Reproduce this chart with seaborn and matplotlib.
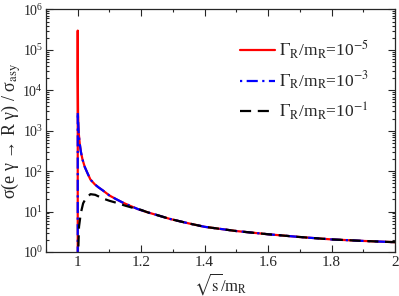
import numpy as np
import pandas as pd
import matplotlib
matplotlib.use("Agg")
import matplotlib.pyplot as plt
import seaborn as sns
from matplotlib.ticker import MultipleLocator, LogLocator, NullFormatter

# values (sqrt(s)/m_R , sigma/sigma_asy)
x_tail = [1.0063, 1.01, 1.015, 1.022, 1.03, 1.04, 1.054, 1.065, 1.08, 1.1,
          1.12, 1.14, 1.164, 1.19, 1.22, 1.25, 1.29, 1.35, 1.4, 1.5,
          1.6, 1.7, 1.8, 1.9, 2.0]
y_tail = [480, 300, 195, 128, 92, 62, 47, 40, 33, 25,
          20.5, 17, 14, 11.5, 9.6, 8.2, 6.6, 5.1, 4.2, 3.3,
          2.75, 2.35, 2.05, 1.88, 1.75]

x_red = [1.0, 1.00001, 1.0001, 1.001, 1.003] + x_tail
y_red = [0.5, 3.0e5, 2.6e4, 2700, 900] + y_tail

x_blue = [1.0, 1.00005, 1.001, 1.003] + x_tail
y_blue = [0.5, 2900, 1900, 850] + y_tail

x_black = [1.0, 1.001, 1.002, 1.004, 1.0095, 1.017, 1.025, 1.04, 1.055, 1.08,
           1.1, 1.122, 1.15, 1.175, 1.2, 1.22, 1.25, 1.29, 1.35, 1.4,
           1.5, 1.6, 1.7, 1.8, 1.9, 2.0]
y_black = [0.5, 1.0, 1.35, 4.2, 9, 16, 21, 27, 26, 21,
           18.5, 16.5, 14, 12.3, 11, 9.6, 8.2, 6.6, 5.1, 4.2,
           3.3, 2.75, 2.35, 2.05, 1.88, 1.75]

labels = [r"$\Gamma_{\rm R}$/m$_{\rm R}$=10$^{-5}$",
          r"$\Gamma_{\rm R}$/m$_{\rm R}$=10$^{-3}$",
          r"$\Gamma_{\rm R}$/m$_{\rm R}$=10$^{-1}$"]

sns.set_style("ticks")
plt.rcParams["font.family"] = ["Liberation Serif", "DejaVu Serif"]
plt.rcParams["mathtext.fontset"] = "stix"

fig = plt.figure(figsize=(3.99, 2.96), dpi=100)
ax = fig.add_axes([0.1153, 0.1486, 0.8747, 0.8194])

sns.lineplot(x=x_red, y=y_red, ax=ax, color="#ff0000", lw=1.6,
             estimator=None, sort=False, label=labels[0])
sns.lineplot(x=x_blue, y=y_blue, ax=ax, color="#0000ff", lw=1.6,
             estimator=None, sort=False, label=labels[1])
ax.lines[-1].set_dashes([1, 2, 5, 2])
sns.lineplot(x=x_black, y=y_black, ax=ax, color="black", lw=1.6,
             estimator=None, sort=False, label=labels[2])
ax.lines[-1].set_dashes([5, 3])

ax.set_yscale("log")
ax.set_xlim(0.9, 2.0)
ax.set_ylim(1, 1e6)
ax.xaxis.set_minor_locator(MultipleLocator(0.1))
ax.set_xticks([1.0, 1.2, 1.4, 1.6, 1.8, 2.0])
ax.set_xticklabels(["1", "1.2", "1.4", "1.6", "1.8", "2"])
ax.yaxis.set_major_locator(LogLocator(base=10, numticks=10))
ax.yaxis.set_minor_locator(LogLocator(base=10, subs=np.arange(2, 10), numticks=20))
ax.yaxis.set_minor_formatter(NullFormatter())

ax.tick_params(which="both", direction="in", top=True, right=True,
               width=0.8, pad=3)
ax.tick_params(axis="x", labelsize=11)
ax.tick_params(axis="y", labelsize=10, pad=2)
ax.tick_params(which="major", length=5)
ax.tick_params(which="minor", length=2.5)
for s in ax.spines.values():
    s.set_linewidth(0.9)

ax.set_xlabel(r"$\sqrt{\rm s}$/m$_{\rm R}$", fontsize=12)
ax.xaxis.set_label_coords(0.5, -0.078)
ax.set_ylabel("σ(e γ → R γ) / σ$_{\\rm asy}$", fontsize=13)
ax.yaxis.set_label_coords(-0.066, 0.5)

ax.legend(loc="upper right", frameon=False, fontsize=12.5, handlelength=2.0,
          handletextpad=0.25, bbox_to_anchor=(0.945, 0.91), labelspacing=0.5,
          borderaxespad=0.0)

fig.savefig("out.png", dpi=100)
